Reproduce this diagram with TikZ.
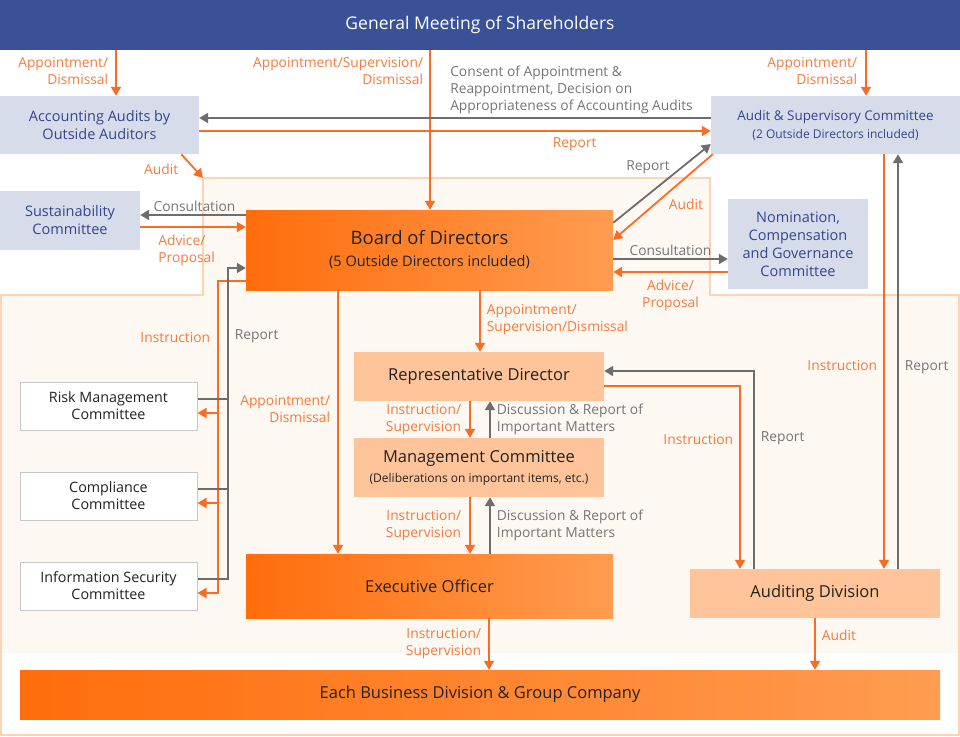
\documentclass[tikz,border=0pt]{standalone}
\usepackage{fontspec}
\setmainfont{Open Sans}
\usetikzlibrary{arrows.meta, positioning, calc}
\definecolor{meetBlue}{HTML}{3A5198}
\definecolor{paleBlue}{HTML}{D7DCEA}
\definecolor{inkBlue}{HTML}{34468E}
\definecolor{zoneFill}{HTML}{FEF8F2}
\definecolor{zoneLine}{HTML}{FDD3B3}
\definecolor{deepOrange}{HTML}{FF6D0C}
\definecolor{softOrange}{HTML}{FF9C50}
\definecolor{paleOrange}{HTML}{FFC499}
\definecolor{lineOrange}{HTML}{FA6B23}
\definecolor{textOrange}{HTML}{F47A3E}
\definecolor{lineGray}{HTML}{6D6D6D}
\definecolor{textGray}{HTML}{757575}
\definecolor{boxText}{HTML}{222222}
\newcommand{\fsz}[2]{\fontsize{#1}{#2}\selectfont}

\begin{document}
\begin{tikzpicture}[
    x=1pt, y=-1pt,
    box/.style={inner sep=0pt, align=center, text=boxText, font=\fsz{16.5}{20}},
    bluebox/.style={box, fill=paleBlue, text=inkBlue, font=\fsz{14.5}{18}},
    deepbox/.style={box, left color=deepOrange, right color=softOrange},
    palebox/.style={box, fill=paleOrange},
    wbox/.style={box, fill=white, draw=black!22, line width=1pt, font=\fsz{14.3}{17}},
    olab/.style={text=textOrange, font=\fsz{13.8}{17}, inner sep=1pt},
    glab/.style={text=textGray, font=\fsz{13.8}{17}, inner sep=1pt},
    oarr/.style={draw=lineOrange, line width=1.8pt, -{Triangle[width=10pt,length=9pt]}},
    garr/.style={draw=lineGray, line width=1.8pt, -{Triangle[width=10pt,length=9pt]}},
    gline/.style={draw=lineGray, line width=1.8pt}
  ]
  \useasboundingbox (0,0) rectangle (960,736);

  % zone of the executive bodies
  \fill[zoneFill] (203,178) -- (710,178) -- (710,295) -- (958,295) -- (958,653)
    -- (1,653) -- (1,295) -- (203,295) -- cycle;
  \draw[zoneLine, line width=2.2pt] (203,178) -- (710,178) -- (710,295) -- (958.8,295)
    -- (958.8,734.8) -- (1.2,734.8) -- (1.2,295) -- (203,295) -- cycle;
  \coordinate (zone nw) at (203,178);

  \node[fill=meetBlue, minimum width=960pt, minimum height=50pt, inner sep=0pt,
        text=white, font=\fsz{17.5}{20}] (meeting) at (480,25) {General Meeting of Shareholders};

  \node[bluebox, minimum width=199pt, minimum height=58pt] (acc) at (99.5,125)
    {Accounting Audits by\\Outside Auditors};
  \node[bluebox, minimum width=249pt, minimum height=58pt, font=\fsz{13.4}{17}] (asc) at (835.5,125)
    {Audit \& Supervisory Committee\\[1pt]{\fsz{12}{15}(2 Outside Directors included)}};
  \node[bluebox, minimum width=140pt, minimum height=59pt] (sus) at (70,220.5)
    {Sustainability\\Committee};
  \node[bluebox, minimum width=140pt, minimum height=90pt] (nom) at (798,244)
    {Nomination,\\Compensation\\and Governance\\Committee};

  \node[deepbox, minimum width=367pt, minimum height=80pt, font=\fsz{18.5}{22}] (board) at (429.5,250)
    {Board of Directors\\[0pt]{\fsz{14.5}{17}(5 Outside Directors included)}};
  \node[palebox, minimum width=250pt, minimum height=49pt] (rep) at (479,376.5)
    {Representative Director};
  \node[palebox, minimum width=250pt, minimum height=59pt] (mgmt) at (479,467.5)
    {Management Committee\\[0pt]{\fsz{12}{15}(Deliberations on important items, etc.)}};
  \node[deepbox, minimum width=367pt, minimum height=64pt] (exec) at (429.5,586)
    {Executive Officer};
  \node[palebox, minimum width=250pt, minimum height=49pt] (aud) at (815,593.5)
    {Auditing Division};
  \node[deepbox, minimum width=920pt, minimum height=49pt] (biz) at (480,694.5)
    {Each Business Division \& Group Company};

  \node[wbox, minimum width=177pt, minimum height=48pt] (risk) at (108.5,406)
    {Risk Management\\Committee};
  \node[wbox, minimum width=177pt, minimum height=48pt] (comp) at (108.5,496)
    {Compliance\\Committee};
  \node[wbox, minimum width=177pt, minimum height=48pt] (info) at (108.5,586)
    {Information Security\\Committee};

  % shareholders meeting
  \draw[oarr] (116,0 |- meeting.south) -- node[olab, pos=.45, left=6pt, align=right]
    {Appointment/\\Dismissal} (116,0 |- acc.north);
  \draw[oarr] (430,0 |- meeting.south) -- node[olab, pos=.13, left=5pt, align=right]
    {Appointment/Supervision/\\Dismissal} (430,0 |- board.north);
  \draw[oarr] (866,0 |- meeting.south) -- node[olab, pos=.45, left=7pt, align=right]
    {Appointment/\\Dismissal} (866,0 |- asc.north);

  % outside auditors
  \draw[garr] (asc.west |- 0,118) -- node[glab, pos=.513, anchor=south west, align=left, yshift=2pt]
    {Consent of Appointment \&\\Reappointment, Decision on\\Appropriateness of Accounting Audits}
    (acc.east |- 0,118);
  \draw[oarr] (acc.east |- 0,131) -- node[olab, pos=.734, below=5pt]{Report} (asc.west |- 0,131);
  \draw[oarr] ([xshift=-18pt]acc.south east) -- node[olab, midway, left=12pt, yshift=-3pt]{Audit} (zone nw);

  % advisory committees
  \draw[garr] (board.west |- 0,215) -- node[glab, pos=.486, above=1pt]{Consultation} (sus.east |- 0,215);
  \draw[oarr] (sus.east |- 0,227) -- node[olab, pos=.154, anchor=north west, align=left, yshift=-6pt]
    {Advice/\\Proposal} (board.west |- 0,227);
  \draw[garr] (board.east |- 0,259) -- node[glab, midway, above=1pt]{Consultation} (nom.west |- 0,259);
  \draw[oarr] (nom.west |- 0,272) -- node[olab, midway, below=6pt, align=center]
    {Advice/\\Proposal} (board.east |- 0,272);

  % audit & supervisory committee and board
  \draw[garr] ([yshift=-13pt]board.north east) -- node[glab, pos=.6, above left=0pt]{Report}
    ([yshift=-19pt]asc.west);
  \draw[oarr] ([xshift=2pt]asc.south west) -- node[olab, midway, below right=0pt, xshift=4pt]{Audit}
    ([yshift=10pt]board.east);

  % execution line
  \draw[oarr] (480,0 |- board.south) -- node[olab, pos=.48, right=5pt, align=left]
    {Appointment/\\Supervision/Dismissal} (480,0 |- rep.north);
  \draw[oarr] (338,0 |- board.south) -- node[olab, pos=.45, left=6pt, align=right]
    {Appointment/\\Dismissal} (338,0 |- exec.north);
  \draw[oarr] (470,0 |- rep.south) -- node[olab, midway, left=7pt, align=right]
    {Instruction/\\Supervision} (470,0 |- mgmt.north);
  \draw[garr] (490,0 |- mgmt.north) -- node[glab, midway, right=5pt, align=left]
    {Discussion \& Report of\\Important Matters} (490,0 |- rep.south);
  \draw[oarr] (470,0 |- mgmt.south) -- node[olab, midway, left=7pt, align=right]
    {Instruction/\\Supervision} (470,0 |- exec.north);
  \draw[garr] (490,0 |- exec.north) -- node[glab, midway, right=5pt, align=left]
    {Discussion \& Report of\\Important Matters} (490,0 |- mgmt.south);
  \draw[oarr] (489,0 |- exec.south) -- node[olab, midway, left=6pt, align=right]
    {Instruction/\\Supervision} (489,0 |- biz.north);

  % internal audit
  \draw[oarr] (rep.east |- 0,386) -| node[olab, pos=.645, left=5pt]{Instruction} (740,0 |- aud.north);
  \draw[garr] (754,0 |- aud.north) |- node[glab, pos=.33, right=5pt]{Report} (rep.east |- 0,371);
  \draw[oarr] (884,0 |- asc.south) -- node[olab, pos=.51, left=5pt]{Instruction} (884,0 |- aud.north);
  \draw[garr] (898,0 |- aud.north) -- node[glab, pos=.487, right=5pt]{Report} (898,0 |- asc.south);
  \draw[oarr] (aud.south) -- node[olab, pos=.33, right=5pt]{Audit} (aud.south |- biz.north);

  % internal committees
  \draw[oarr] (board.west |- 0,281) -| node[olab, pos=.59, left=6pt]{Instruction}
    ([yshift=-7pt]218,0 |- info.east) -- ([yshift=-7pt]info.east);
  \foreach \c in {risk, comp}
    \draw[oarr] ([yshift=-7pt]218,0 |- \c.east) -- ([yshift=-7pt]\c.east);
  \draw[garr] ([yshift=7pt]info.east) -| node[glab, pos=.89, right=5pt]{Report} (228,268)
    -- (board.west |- 0,268);
  \foreach \c in {risk, comp}
    \draw[gline] ([yshift=7pt]\c.east) -- ([yshift=7pt]228,0 |- \c.east);
\end{tikzpicture}
\end{document}
